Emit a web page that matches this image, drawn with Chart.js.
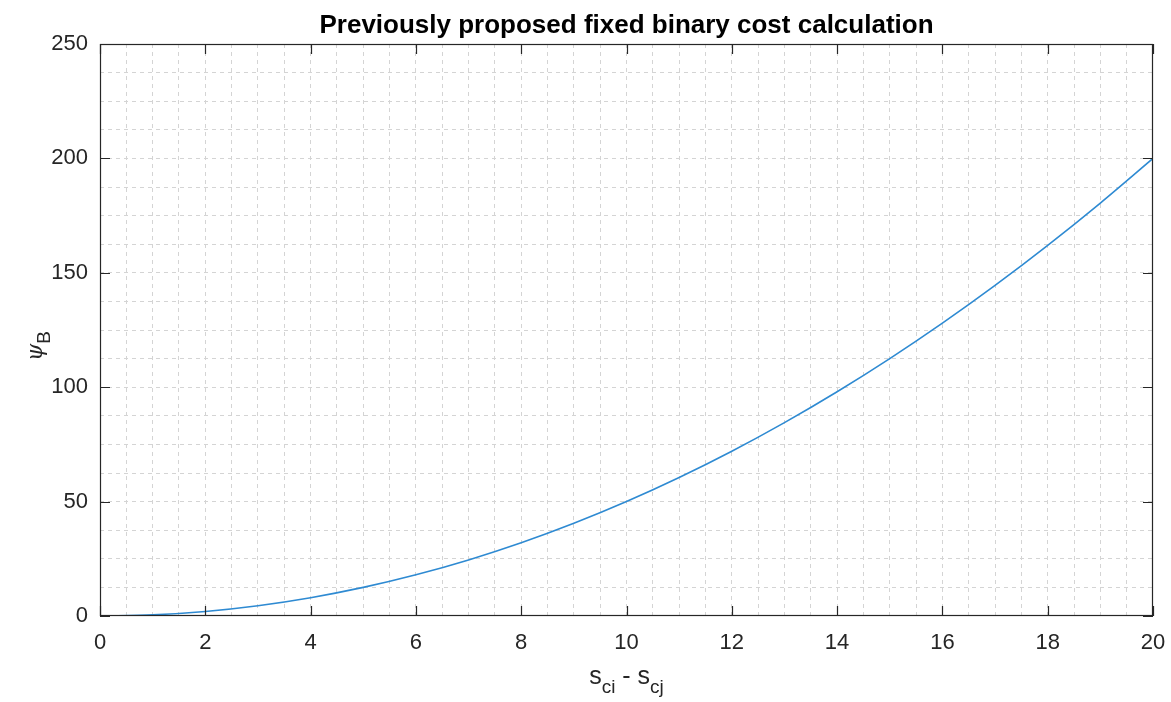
<!DOCTYPE html>
<html lang="en">
<head>
<meta charset="UTF-8">
<title>Binary cost</title>
<script src="https://cdn.jsdelivr.net/npm/chart.js"></script>
<style>
  html, body { margin: 0; padding: 0; background: #fff; }
  #wrap { width: 1171px; height: 702px; position: relative; }
</style>
</head>
<body>
<div id="wrap"><canvas id="costChart"></canvas></div>
<script>
// s_ci - s_cj samples and the resulting cost
const xValues = [0, 1, 2, 3, 4, 5, 6, 7, 8, 9, 10, 11, 12, 13, 14, 15, 16, 17, 18, 19, 20];
const psiValues = [0, 0.5, 2, 4.5, 8, 12.5, 18, 24.5, 32, 40.5, 50, 60.5, 72, 84.5, 98, 112.5, 128, 144.5, 162, 180.5, 200];
const xTicks = [0, 2, 4, 6, 8, 10, 12, 14, 16, 18, 20];
const yTicks = [0, 50, 100, 150, 200, 250];

const titleText = 'Previously proposed fixed binary cost calculation';
const axisColor = '#262626';
const fontFam = '"Liberation Sans", Arial, Helvetica, sans-serif';

// box, inward ticks, title and the subscripted axis labels
const decorations = {
  id: 'decorations',
  afterDraw(chart) {
    const { ctx, chartArea: a, scales } = chart;
    const x = scales.x, y = scales.y;
    ctx.save();
    ctx.strokeStyle = axisColor;
    ctx.lineWidth = 1.2;
    ctx.strokeRect(a.left + 0.5, a.top + 0.5, a.right - a.left - 1, a.bottom - a.top - 1);

    const len = 10;
    ctx.beginPath();
    xTicks.forEach(v => {
      const px = Math.round(x.getPixelForValue(v)) + 0.5;
      ctx.moveTo(px, a.bottom); ctx.lineTo(px, a.bottom - len);
      ctx.moveTo(px, a.top); ctx.lineTo(px, a.top + len);
    });
    yTicks.forEach(v => {
      const py = Math.round(y.getPixelForValue(v)) + 0.5;
      ctx.moveTo(a.left, py); ctx.lineTo(a.left + len, py);
      ctx.moveTo(a.right, py); ctx.lineTo(a.right - len, py);
    });
    ctx.stroke();

    const cx = (a.left + a.right) / 2;
    ctx.fillStyle = '#000';
    ctx.textAlign = 'center';
    ctx.textBaseline = 'alphabetic';
    ctx.font = 'bold 26px ' + fontFam;
    ctx.fillText(titleText, cx, 33);

    // x label: s_ci - s_cj
    ctx.fillStyle = axisColor;
    ctx.textAlign = 'left';
    const big = '25px ' + fontFam, small = '19px ' + fontFam;
    const parts = [['s', big, 0], ['ci', small, 9], [' - ', big, 0], ['s', big, 0], ['cj', small, 9]];
    let total = 0;
    parts.forEach(p => { ctx.font = p[1]; total += ctx.measureText(p[0]).width; });
    let px = cx - total / 2;
    const base = 684;
    parts.forEach(p => {
      ctx.font = p[1];
      ctx.fillText(p[0], px, base + p[2]);
      px += ctx.measureText(p[0]).width;
    });

    // y label: psi_B, rotated
    ctx.translate(42, 346);
    ctx.rotate(-Math.PI / 2);
    ctx.font = 'italic 22px "DejaVu Serif", serif';
    const wPsi = ctx.measureText('\u03C8').width;
    ctx.font = '19px ' + fontFam;
    const wB = ctx.measureText('B').width;
    let sx = -(wPsi + wB) / 2;
    ctx.font = 'italic 22px "DejaVu Serif", serif';
    ctx.fillText('\u03C8', sx, 0);
    ctx.font = '19px ' + fontFam;
    ctx.fillText('B', sx + wPsi, 8);
    ctx.restore();
  }
};

new Chart(document.getElementById('costChart'), {
  type: 'line',
  data: {
    datasets: [{
      data: xValues.map((v, i) => ({ x: v, y: psiValues[i] })),
      borderColor: '#2e8ad2',
      borderWidth: 1.6,
      pointRadius: 0,
      tension: 0.4,
      cubicInterpolationMode: 'monotone',
      fill: false
    }]
  },
  options: {
    responsive: true,
    maintainAspectRatio: false,
    animation: false,
    layout: { padding: { left: 0, top: 44, right: 18, bottom: 0 } },
    plugins: { legend: { display: false }, title: { display: false }, tooltip: { enabled: false } },
    scales: {
      x: {
        type: 'linear',
        min: 0, max: 20,
        afterFit(scale) {
          scale.height = 86;
          scale.paddingLeft = 0;
          scale.paddingRight = 0;
        },
        afterBuildTicks(scale) {
          const t = [];
          for (let v = 0; v <= 20; v += 0.5) t.push({ value: v });
          scale.ticks = t;
        },
        grid: {
          color: ctx => (ctx.tick && (ctx.tick.value === 0 || ctx.tick.value === 20)) ? 'rgba(0,0,0,0)' : '#d4d4d4',
          lineWidth: 1,
          drawTicks: false
        },
        border: { display: false, dash: [4, 4] },
        ticks: {
          autoSkip: false,
          maxRotation: 0,
          padding: 14,
          color: axisColor,
          font: { family: fontFam, size: 22 },
          callback: v => (v % 2 === 0 ? String(v) : '')
        }
      },
      y: {
        type: 'linear',
        min: 0, max: 250,
        afterFit(scale) {
          scale.width = 100;
          scale.paddingTop = 0;
          scale.paddingBottom = 0;
        },
        afterBuildTicks(scale) {
          const t = [];
          for (let v = 0; v <= 250; v += 12.5) t.push({ value: v });
          scale.ticks = t;
        },
        grid: {
          color: ctx => (ctx.tick && (ctx.tick.value === 0 || ctx.tick.value === 250)) ? 'rgba(0,0,0,0)' : '#d4d4d4',
          lineWidth: 1,
          drawTicks: false
        },
        border: { display: false, dash: [4, 4] },
        ticks: {
          autoSkip: false,
          padding: 12,
          color: axisColor,
          font: { family: fontFam, size: 22 },
          callback: v => (v % 50 === 0 ? String(v) : '')
        }
      }
    }
  },
  plugins: [decorations]
});
</script>
</body>
</html>
